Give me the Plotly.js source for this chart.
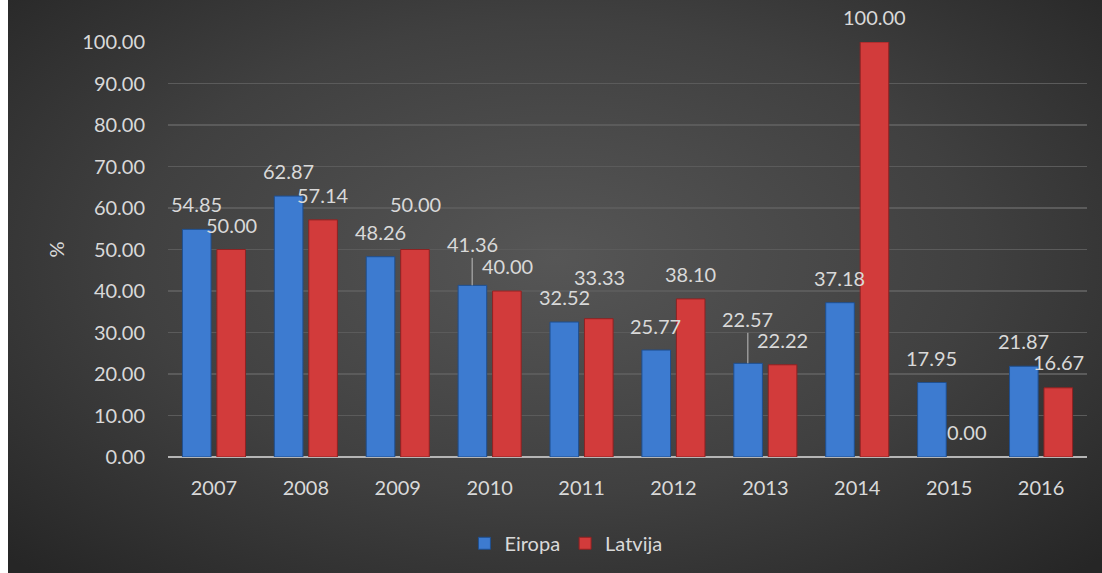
<!DOCTYPE html>
<html>
<head>
<meta charset="utf-8">
<script src="https://cdn.plot.ly/plotly-3.0.1.min.js"></script>
<style>
  html, body { margin: 0; padding: 0; background: #ffffff; }
  #wrap { position: relative; width: 1102px; height: 573px; overflow: hidden; }
  #bg { position: absolute; left: 8px; top: 0; width: 1094px; height: 573px;
        background: radial-gradient(ellipse 70% 75% at 50% 45%, #565656 0%, #404040 55%, #262626 100%); }
  #chart { position: absolute; left: 0; top: 0; width: 1102px; height: 573px; }
</style>
</head>
<body>
<div id="wrap">
  <div id="bg"></div>
  <div id="chart"></div>
</div>
<script>
// ---- data ----
const years = ['2007', '2008', '2009', '2010', '2011', '2012', '2013', '2014', '2015', '2016'];
const eiropa = [54.85, 62.87, 48.26, 41.36, 32.52, 25.77, 22.57, 37.18, 17.95, 21.87];
const latvija = [50.00, 57.14, 50.00, 40.00, 33.33, 38.10, 22.22, 100.00, 0.00, 16.67];
const seriesNames = ['Eiropa', 'Latvija'];
const yTicks = [0, 10, 20, 30, 40, 50, 60, 70, 80, 90, 100];

// ---- label placement (style, not data) ----
const liftEiropa = [25, 25, 25, 41, 25, 24, 44, 25, 25, 25];
const leaderEiropa = [false, false, false, true, false, false, true, false, false, false];
const liftLatvija = [25, 25, 46, 25, 42, 25, 25, 25, 25, 26];

const txtColor = '#d9d9d9';
const fontFam = 'Lato, "Open Sans", sans-serif';

const traces = [
  {
    type: 'bar', name: seriesNames[0], x: years, y: eiropa,
    marker: { color: '#3d7bd0', line: { color: '#1f4f8f', width: eiropa.map(v => v > 0 ? 1 : 0) } },
    hoverinfo: 'x+y'
  },
  {
    type: 'bar', name: seriesNames[1], x: years, y: latvija,
    marker: { color: '#d23b3b', line: { color: '#8f2222', width: latvija.map(v => v > 0 ? 1 : 0) } },
    hoverinfo: 'x+y'
  }
];

const annotations = [];
function addLabels(vals, lifts, leaders, shift) {
  vals.forEach((v, i) => {
    const a = {
      x: i, y: v, xref: 'x', yref: 'y',   // i = index of the category on the axis
      text: v.toFixed(2), xshift: shift,
      font: { family: fontFam, size: 20, color: txtColor }
    };
    if (leaders && leaders[i]) {
      Object.assign(a, { showarrow: true, ax: 0, ay: -lifts[i], arrowhead: 0,
        arrowwidth: 1, arrowcolor: '#bfbfbf', standoff: 0, startstandoff: 0 });
    } else {
      Object.assign(a, { showarrow: false, yshift: lifts[i], yanchor: 'middle' });
    }
    annotations.push(a);
  });
}
addLabels(eiropa, liftEiropa, leaderEiropa, -17.5);
addLabels(latvija, liftLatvija, null, 17.5);

const layout = {
  width: 1102, height: 573,
  paper_bgcolor: 'rgba(0,0,0,0)', plot_bgcolor: 'rgba(0,0,0,0)',
  margin: { l: 168, r: 15, t: 42, b: 115 },
  barmode: 'group', bargap: 0.25, bargroupgap: 0.17,
  font: { family: fontFam, size: 20, color: txtColor },
  showlegend: true,
  legend: {
    orientation: 'h', x: 0.433, xanchor: 'center', y: -0.205, yanchor: 'middle',
    font: { family: fontFam, size: 20, color: txtColor }, bgcolor: 'rgba(0,0,0,0)',
    itemwidth: 30, traceorder: 'normal'
  },
  xaxis: {
    type: 'category', range: [-0.5, years.length - 0.5], autorange: false,
    showgrid: false, showline: false, ticks: '', zeroline: false,
    tickfont: { family: fontFam, size: 20, color: txtColor },
    ticklabelstandoff: 17, fixedrange: true
  },
  yaxis: {
    range: [0, 100], autorange: false, tickvals: yTicks, ticktext: yTicks.map(t => t.toFixed(2)),
    showgrid: true, gridcolor: '#5b5b5b', gridwidth: 1.5,
    zeroline: true, zerolinecolor: '#b5b5b5', zerolinewidth: 2.5,
    showline: false, ticks: '',
    tickfont: { family: fontFam, size: 20, color: txtColor },
    ticklabelstandoff: 22,
    title: { text: '%', font: { family: fontFam, size: 20, color: txtColor }, standoff: 12 },
    fixedrange: true
  },
  annotations: annotations
};

Plotly.newPlot('chart', traces, layout, { displayModeBar: false, staticPlot: true });
</script>
</body>
</html>
